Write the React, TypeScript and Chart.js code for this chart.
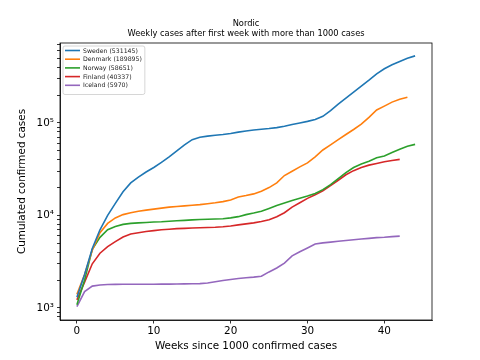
import React, { useEffect, useRef } from 'react';
import { Chart, registerables } from 'chart.js';

Chart.register(...registerables);

const titleLines = ['Nordic', 'Weekly cases after first week with more than 1000 cases'];
const xAxisTitle = 'Weeks since 1000 confirmed cases';
const yAxisTitle = 'Cumulated confirmed cases';

const seriesLabels = ['Sweden (531145)', 'Denmark (189895)', 'Norway (58651)', 'Finland (40337)', 'Iceland (5970)'];
const seriesColors = ['#1f77b4', '#ff7f0e', '#2ca02c', '#d62728', '#9467bd'];

const sweden = [1300, 2300, 4400, 7000, 10000, 13500, 18000, 22500, 26000, 29500, 33000, 37500, 43000, 50000, 58000, 66000, 70000, 72000, 73500, 75000, 77000, 79500, 82000, 84000, 85500, 87000, 89000, 92000, 96000, 100000, 104000, 109000, 118000, 136000, 160000, 186000, 215000, 250000, 290000, 340000, 385000, 425000, 462000, 500000, 531145];
const denmark = [1400, 2300, 4200, 6500, 8200, 9400, 10200, 10700, 11100, 11400, 11700, 12000, 12300, 12500, 12700, 12900, 13100, 13400, 13700, 14100, 14700, 15800, 16400, 17100, 18300, 20000, 22500, 27000, 30000, 33500, 37000, 43000, 51000, 58000, 66000, 75000, 85000, 97000, 115000, 138000, 152000, 168000, 180000, 189895];
const norway = [1080, 2000, 4300, 5800, 7000, 7600, 8000, 8200, 8300, 8400, 8500, 8550, 8650, 8750, 8850, 8950, 9050, 9100, 9150, 9200, 9400, 9700, 10200, 10600, 11100, 11900, 12800, 13600, 14500, 15300, 16200, 17300, 19000, 21500, 25000, 29000, 33000, 36000, 38500, 42000, 44000, 48000, 52000, 56000, 58651];
const finland = [1220, 1900, 3000, 3900, 4600, 5200, 5850, 6300, 6500, 6700, 6850, 7000, 7100, 7200, 7250, 7300, 7350, 7400, 7450, 7550, 7700, 7900, 8100, 8300, 8600, 9000, 9700, 10700, 12300, 13700, 15300, 16700, 18500, 21000, 24000, 27500, 30500, 33000, 35000, 36500, 38000, 39200, 40337];
const iceland = [1030, 1500, 1720, 1770, 1790, 1795, 1800, 1800, 1800, 1805, 1805, 1810, 1810, 1815, 1820, 1825, 1830, 1860, 1920, 1980, 2030, 2080, 2120, 2150, 2200, 2450, 2700, 3050, 3650, 4050, 4450, 4900, 5050, 5150, 5250, 5350, 5450, 5550, 5650, 5750, 5800, 5900, 5970];

const seriesValues = [sweden, denmark, norway, finland, iceland];

const xTickValues = [0, 10, 20, 30, 40];
const yMajorTicks = [1000, 10000, 100000];
const yMajorLabels = ['10³', '10⁴', '10⁵'];
const yMinorTicks = [800, 900, 2000, 3000, 4000, 5000, 6000, 7000, 8000, 9000, 20000, 30000, 40000, 50000, 60000, 70000, 80000, 90000, 200000, 300000, 400000, 500000, 600000, 700000];

const FONT = '"DejaVu Sans", sans-serif';

const framePlugin = {
  id: 'frameAndText',
  afterDraw(chart: any) {
    const { ctx, chartArea } = chart;
    const { left, right, top, bottom } = chartArea;
    ctx.save();
    // full spine box
    ctx.strokeStyle = '#000';
    ctx.lineWidth = 0.8;
    ctx.strokeRect(left, top, right - left, bottom - top);

    // title
    const cx = (left + right) / 2;
    ctx.fillStyle = '#000';
    ctx.textAlign = 'center';
    ctx.textBaseline = 'middle';
    ctx.font = `8.3px ${FONT}`;
    ctx.fillText(titleLines[0], cx, 24);
    ctx.fillText(titleLines[1], cx, 34);

    // legend
    ctx.font = `6.2px ${FONT}`;
    let maxW = 0;
    seriesLabels.forEach((l) => { maxW = Math.max(maxW, ctx.measureText(l).width); });
    const bx = left + 3;
    const by = top + 3;
    const rowH = 8.7;
    const bw = 2 + 15 + 3 + maxW + 3;
    const bh = 4 + rowH * seriesLabels.length + 1;
    ctx.beginPath();
    const r = 2;
    ctx.moveTo(bx + r, by);
    ctx.lineTo(bx + bw - r, by);
    ctx.quadraticCurveTo(bx + bw, by, bx + bw, by + r);
    ctx.lineTo(bx + bw, by + bh - r);
    ctx.quadraticCurveTo(bx + bw, by + bh, bx + bw - r, by + bh);
    ctx.lineTo(bx + r, by + bh);
    ctx.quadraticCurveTo(bx, by + bh, bx, by + bh - r);
    ctx.lineTo(bx, by + r);
    ctx.quadraticCurveTo(bx, by, bx + r, by);
    ctx.closePath();
    ctx.fillStyle = 'rgba(255,255,255,0.8)';
    ctx.fill();
    ctx.strokeStyle = '#cccccc';
    ctx.lineWidth = 0.8;
    ctx.stroke();
    seriesLabels.forEach((l, i) => {
      const y = by + 4.5 + rowH * i;
      ctx.strokeStyle = seriesColors[i];
      ctx.lineWidth = 1.6;
      ctx.beginPath();
      ctx.moveTo(bx + 2, y);
      ctx.lineTo(bx + 17, y);
      ctx.stroke();
      ctx.fillStyle = '#222';
      ctx.textAlign = 'left';
      ctx.textBaseline = 'middle';
      ctx.fillText(l, bx + 20, y + 0.5);
    });
    ctx.restore();
  },
};

export default function App() {
  const ref = useRef<HTMLCanvasElement | null>(null);
  useEffect(() => {
    document.body.style.margin = '0';
    const canvas = ref.current;
    if (!canvas) return;
    const chart = new Chart(canvas, {
      type: 'line',
      data: {
        datasets: seriesValues.map((vals, i) => ({
          label: seriesLabels[i],
          data: vals.map((v, w) => ({ x: w, y: v })),
          borderColor: seriesColors[i],
          backgroundColor: seriesColors[i],
          borderWidth: 1.6,
          pointRadius: 0,
          tension: 0,
          fill: false,
        })),
      },
      options: {
        responsive: false,
        animation: false,
        events: [],
        layout: { padding: { top: 43, right: 48, left: 12, bottom: 3 } },
        plugins: {
          legend: { display: false },
          title: { display: false },
          tooltip: { enabled: false },
        },
        scales: {
          x: {
            type: 'linear',
            min: -2.2,
            max: 46.2,
            afterBuildTicks: (s: any) => { s.ticks = xTickValues.map((v) => ({ value: v })); },
            afterFit: (s: any) => { s.height = 37; },
            grid: { display: true, drawOnChartArea: false, drawTicks: true, tickLength: 3.5, color: '#000', lineWidth: 0.8 },
            border: { display: true, color: '#000', width: 0.8 },
            ticks: { color: '#000', font: { family: FONT, size: 10.4 }, padding: 2, autoSkip: false, maxRotation: 0, callback: (v: any) => String(v) },
            title: { display: true, text: xAxisTitle, color: '#000', font: { family: FONT, size: 10.4 }, padding: { top: 2, bottom: 4 } },
          },
          y: {
            type: 'logarithmic',
            min: 740,
            max: 732000,
            afterBuildTicks: (s: any) => {
              s.ticks = [...yMinorTicks, ...yMajorTicks].sort((a, b) => a - b).map((v) => ({ value: v, major: yMajorTicks.includes(v) }));
            },
            afterFit: (s: any) => { s.width = 48; },
            grid: { display: true, drawOnChartArea: false, drawTicks: true, tickLength: 3, color: '#000', lineWidth: 0.8 },
            border: { display: true, color: '#000', width: 0.8 },
            ticks: {
              color: '#000',
              font: { family: FONT, size: 10.4 },
              padding: 3,
              autoSkip: false,
              callback: (v: any) => {
                const idx = yMajorTicks.indexOf(Number(v));
                return idx >= 0 ? yMajorLabels[idx] : '';
              },
            },
            title: { display: true, text: yAxisTitle, color: '#000', font: { family: FONT, size: 10.4 }, padding: { top: 4, bottom: 4 } },
          },
        },
      },
      plugins: [framePlugin],
    } as any);
    return () => chart.destroy();
  }, []);
  return (
    <div style={{ width: 480, height: 360, background: '#fff' }}>
      <canvas ref={ref} width={480} height={360} style={{ display: 'block' }} />
    </div>
  );
}
